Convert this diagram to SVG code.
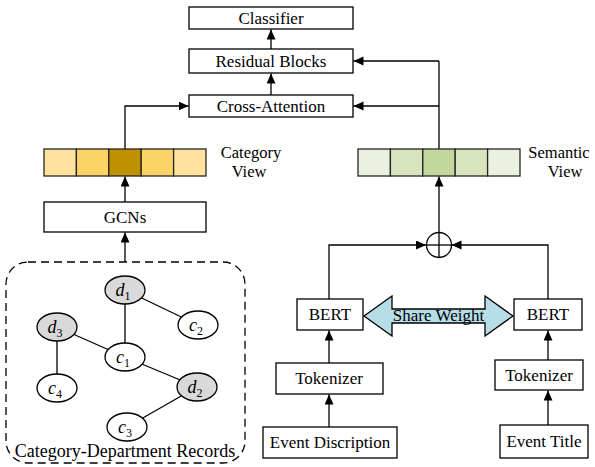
<svg xmlns="http://www.w3.org/2000/svg" width="595" height="467" viewBox="0 0 595 467">
<style>
.box{fill:#fff;stroke:#000;stroke-width:1.3}
.cell{stroke:#262626;stroke-width:1.3}
.t{font-family:"Liberation Serif","Times New Roman",serif;font-size:17px;fill:#000;text-anchor:middle}
.m{font-family:"Liberation Serif","Times New Roman",serif;font-style:italic;font-size:18px;fill:#000;text-anchor:middle}
.ln{fill:none;stroke:#000;stroke-width:1.3}
.ar{fill:none;stroke:#000;stroke-width:1.3;marker-end:url(#ah)}
.dn{fill:#d9d9d9;stroke:#000;stroke-width:1.3}
.cn{fill:#fff;stroke:#000;stroke-width:1.3}
</style>
<defs>
<marker id="ah" markerUnits="userSpaceOnUse" markerWidth="11" markerHeight="10" refX="10" refY="4.5" orient="auto">
<path d="M0,0 L10,4.5 L0,9 z" fill="#000"/>
</marker>
</defs>
<rect width="595" height="467" fill="#fff"/>

<g id="connectors">
<line class="ar" x1="271" y1="49" x2="271" y2="29.5"/>
<line class="ar" x1="271" y1="95" x2="271" y2="73.5"/>
<polyline class="ar" points="125,149 125,106 188.5,106"/>
<polyline class="ln" points="439,149 439,61"/>
<line class="ar" x1="439" y1="61" x2="353.5" y2="61"/>
<line class="ar" x1="439" y1="106" x2="353.5" y2="106"/>
<line class="ar" x1="125" y1="202" x2="125" y2="176.5"/>
<line class="ar" x1="125" y1="262" x2="125" y2="232.5"/>
<line class="ar" x1="439" y1="232.5" x2="439" y2="176.5"/>
<polyline class="ar" points="329,299 329,245 426,245"/>
<polyline class="ar" points="548,299 548,245 451.5,245"/>
<line class="ar" x1="329" y1="363" x2="329" y2="330.5"/>
<line class="ar" x1="329" y1="427" x2="329" y2="394.5"/>
<line class="ar" x1="548" y1="360" x2="548" y2="330.5"/>
<line class="ar" x1="548" y1="425" x2="548" y2="390.5"/>
<g id="graph-edges">
<line class="ln" x1="125" y1="290" x2="125" y2="357"/>
<line class="ln" x1="125" y1="290" x2="198" y2="325"/>
<line class="ln" x1="57" y1="327" x2="125" y2="357"/>
<line class="ln" x1="57" y1="327" x2="57" y2="388"/>
<line class="ln" x1="125" y1="357" x2="197" y2="387"/>
<line class="ln" x1="197" y1="387" x2="127" y2="427"/>
</g>
</g>

<g id="classifier"><rect class="box" x="189" y="7" width="164" height="22"/><text class="t" x="271" y="24">Classifier</text></g>
<g id="residual"><rect class="box" x="189" y="49" width="164" height="24"/><text class="t" x="271" y="67">Residual Blocks</text></g>
<g id="cross-attention"><rect class="box" x="189" y="95" width="164" height="22"/><text class="t" x="271" y="112">Cross-Attention</text></g>

<g id="category-view">
<rect class="cell" x="44" y="149" width="32.4" height="27" fill="#ffe29e"/>
<rect class="cell" x="76.4" y="149" width="32.4" height="27" fill="#fcd366"/>
<rect class="cell" x="108.8" y="149" width="32.4" height="27" fill="#bf9000"/>
<rect class="cell" x="141.2" y="149" width="32.4" height="27" fill="#fcd366"/>
<rect class="cell" x="173.6" y="149" width="32.4" height="27" fill="#ffe29e"/>
<text class="t" x="251" y="158" style="font-size:16.5px">Category</text>
<text class="t" x="249" y="177" style="font-size:16.5px">View</text>
</g>

<g id="semantic-view">
<rect class="cell" x="358" y="149" width="32.4" height="27" fill="#ebf1de"/>
<rect class="cell" x="390.4" y="149" width="32.4" height="27" fill="#d7e4bd"/>
<rect class="cell" x="422.8" y="149" width="32.4" height="27" fill="#c3d69b"/>
<rect class="cell" x="455.2" y="149" width="32.4" height="27" fill="#d7e4bd"/>
<rect class="cell" x="487.6" y="149" width="32.4" height="27" fill="#ebf1de"/>
<text class="t" x="559" y="158" style="font-size:16.5px">Semantic</text>
<text class="t" x="565" y="177" style="font-size:16.5px">View</text>
</g>

<g id="gcns"><rect class="box" x="44" y="202" width="162" height="30"/><text class="t" x="125" y="223">GCNs</text></g>

<g id="records">
<rect x="6" y="262" width="239" height="201" rx="22" ry="22" fill="none" stroke="#000" stroke-width="1.3" stroke-dasharray="8,5"/>
<text class="t" x="125" y="457" style="font-size:18px">Category-Department Records</text>
</g>
<g id="d1"><ellipse class="dn" cx="125" cy="290" rx="20" ry="14"/><text class="m" x="123" y="296">d<tspan font-size="12" font-style="normal" dy="4">1</tspan></text></g>
<g id="c2"><ellipse class="cn" cx="198" cy="325" rx="20" ry="14"/><text class="m" x="196" y="331">c<tspan font-size="12" font-style="normal" dy="4">2</tspan></text></g>
<g id="d3"><ellipse class="dn" cx="57" cy="327" rx="20" ry="14"/><text class="m" x="55" y="333">d<tspan font-size="12" font-style="normal" dy="4">3</tspan></text></g>
<g id="c1"><ellipse class="cn" cx="125" cy="357" rx="20" ry="14"/><text class="m" x="123" y="363">c<tspan font-size="12" font-style="normal" dy="4">1</tspan></text></g>
<g id="c4"><ellipse class="cn" cx="57" cy="388" rx="20" ry="14"/><text class="m" x="55" y="394">c<tspan font-size="12" font-style="normal" dy="4">4</tspan></text></g>
<g id="d2"><ellipse class="dn" cx="197" cy="387" rx="20" ry="14"/><text class="m" x="195" y="393">d<tspan font-size="12" font-style="normal" dy="4">2</tspan></text></g>
<g id="c3"><ellipse class="cn" cx="127" cy="427" rx="20" ry="14"/><text class="m" x="125" y="433">c<tspan font-size="12" font-style="normal" dy="4">3</tspan></text></g>

<g id="sum">
<circle cx="439" cy="245" r="12.5" fill="#fff" stroke="#000" stroke-width="1.3"/>
<line class="ln" x1="426.5" y1="245" x2="451.5" y2="245"/>
<line class="ln" x1="439" y1="232.5" x2="439" y2="257.5"/>
</g>

<g id="bert-left"><rect class="box" x="297" y="299" width="66" height="31"/><text class="t" x="330" y="320">BERT</text></g>
<g id="bert-right"><rect class="box" x="514" y="299" width="68" height="31"/><text class="t" x="548" y="320">BERT</text></g>
<g id="share-weight">
<path d="M364,316 L392,296 L392,309 L485,309 L485,296 L513,316 L485,336 L485,323 L392,323 L392,336 Z" fill="#b7dde8" stroke="#000" stroke-width="1.3"/>
<text class="t" x="438.5" y="321">Share Weight</text>
</g>
<g id="tokenizer-left"><rect class="box" x="276" y="363" width="107" height="31"/><text class="t" x="329" y="384">Tokenizer</text></g>
<g id="tokenizer-right"><rect class="box" x="495" y="360" width="88" height="30"/><text class="t" x="539" y="381">Tokenizer</text></g>
<g id="event-description"><rect class="box" x="263" y="427" width="134" height="31"/><text class="t" x="330" y="448">Event Discription</text></g>
<g id="event-title"><rect class="box" x="500" y="425" width="88" height="33"/><text class="t" x="544" y="447">Event Title</text></g>
</svg>
